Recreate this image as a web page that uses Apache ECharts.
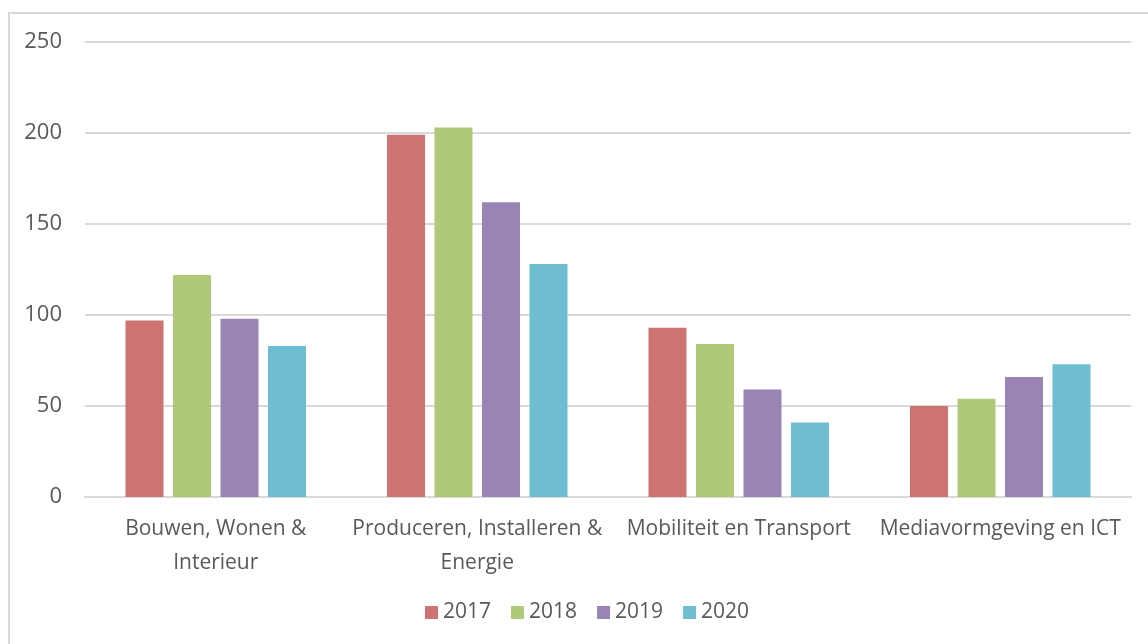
<!DOCTYPE html>
<html>
  <head>
    <title></title>
    <meta charset="UTF-8" />
    <script src="https://cdn.jsdelivr.net/npm/echarts@6/dist/echarts.min.js"></script>
    <style>
      html, body { margin: 0; padding: 0; background: #fff; }
      #frame {
        position: absolute; left: 8px; top: 12px; width: 1160px; height: 660px;
        border: 2px solid #d9d9d9; box-sizing: border-box;
      }
    </style>
  </head>
  <body>
    <div id="frame"></div>
    <div id="main"></div>
    <script>
      const width = 1148;
      const height = 644;
      const main = document.getElementById('main');
      main.style.width = `${width}px`;
      main.style.height = `${height}px`;
      main.style.position = 'absolute';
      main.style.left = '0px';
      main.style.top = '0px';

      const categories = [
        'Bouwen, Wonen &\nInterieur',
        'Produceren, Installeren &\nEnergie',
        'Mobiliteit en Transport',
        'Mediavormgeving en ICT',
      ];
      const years = ['2017', '2018', '2019', '2020'];
      const colors = ['#cd7371', '#afc97a', '#9a83b5', '#6fbdd1'];
      const v2017 = [97, 199, 93, 50];
      const v2018 = [122, 203, 84, 54];
      const v2019 = [98, 162, 59, 66];
      const v2020 = [83, 128, 41, 73];
      const values = [v2017, v2018, v2019, v2020];

      const font = '"Open Sans", "Noto Sans", sans-serif';

      const myChart = echarts.init(main);
      const option = {
        animation: false,
        textStyle: { fontFamily: font },
        grid: { left: 85, right: 17, top: 42, bottom: 147 },
        legend: {
          bottom: 16,
          left: 420,
          itemWidth: 13,
          itemHeight: 13,
          itemGap: 20,
          icon: 'rect',
          textStyle: { fontSize: 21, color: '#595959', fontFamily: font },
          data: years,
        },
        xAxis: {
          type: 'category',
          data: categories,
          axisLine: { lineStyle: { color: '#d9d9d9', width: 2 } },
          axisTick: { show: false },
          axisLabel: {
            color: '#595959',
            fontSize: 21,
            lineHeight: 34,
            margin: 15,
            interval: 0,
          },
        },
        yAxis: {
          type: 'value',
          min: 0,
          max: 250,
          interval: 50,
          axisLine: { show: false },
          axisTick: { show: false },
          splitLine: { lineStyle: { color: '#d9d9d9', width: 2 } },
          axisLabel: { color: '#595959', fontSize: 22, margin: 23 },
        },
        series: years.map((y, i) => ({
          name: y,
          type: 'bar',
          data: values[i],
          itemStyle: { color: colors[i] },
          barWidth: 38,
          barGap: '25%',
        })),
      };
      myChart.setOption(option);
    </script>
  </body>
</html>
